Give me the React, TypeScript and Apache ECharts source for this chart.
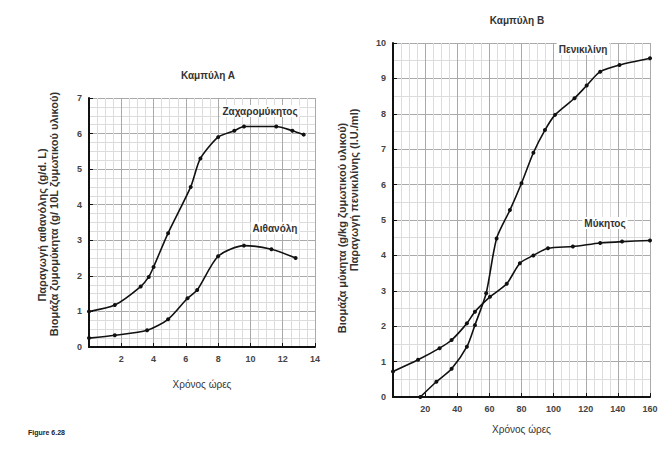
import React, { useEffect, useRef } from "react";
import * as echarts from "echarts";

// Καμπύλη Α
const hoursYeast = [0, 1.6, 3.2, 3.7, 4.0, 4.9, 6.3, 6.9, 8.0, 9.0, 9.6, 11.6, 12.6, 13.3];
const yeastBiomass = [1.0, 1.18, 1.7, 1.97, 2.25, 3.2, 4.5, 5.3, 5.9, 6.08, 6.2, 6.2, 6.08, 5.97];
const hoursEthanol = [0, 1.6, 3.6, 4.9, 6.1, 6.7, 8.0, 9.6, 11.3, 12.8];
const ethanol = [0.25, 0.33, 0.47, 0.78, 1.37, 1.6, 2.55, 2.85, 2.75, 2.5];

// Καμπύλη Β
const hoursPen = [17, 27, 36.5, 46, 51, 58, 64.5, 72.8, 80, 87.4, 94.6, 100.9, 113, 120.6, 129, 141, 160];
const penicillin = [0, 0.43, 0.8, 1.42, 2.03, 2.93, 4.48, 5.28, 6.04, 6.9, 7.54, 7.97, 8.44, 8.8, 9.19, 9.38, 9.57];
const hoursFungus = [0, 15.6, 29, 36.5, 46, 51, 60.4, 70.8, 79, 87.4, 96.5, 112, 129, 142.6, 160];
const fungusBiomass = [0.72, 1.05, 1.38, 1.61, 2.08, 2.41, 2.83, 3.2, 3.78, 4.0, 4.2, 4.25, 4.35, 4.39, 4.42];

const titleA = "Καμπύλη Α";
const titleB = "Καμπύλη Β";
const xName = "Χρόνος ώρες";
const yNameA1 = "Παραγωγή αιθανόλης (g/d. L)";
const yNameA2 = "Βιομάζα ζυμομύκητα (g/ 10L ζυμωτικού υλικού)";
const yNameB1 = "Βιομάζα μύκητα (g/kg ζυμωτικού υλικού)";
const yNameB2 = "Παραγωγή πενικιλίνης (I.U./ml)";
const labelYeast = "Ζαχαρομύκητος";
const labelEthanol = "Αιθανόλη";
const labelPen = "Πενικιλίνη";
const labelFungus = "Μύκητος";
const figLabel = "Figure 6.28";

const zip = (xs: number[], ys: number[]) => xs.map((x, i) => [x, ys[i]]);

const FONT = "Liberation Sans";

function axisX(gridIndex: number, max: number, interval: number) {
  return {
    type: "value",
    gridIndex,
    min: 0,
    max,
    interval,
    name: xName,
    nameLocation: "middle",
    nameGap: gridIndex === 0 ? 32 : 27,
    nameTextStyle: { fontFamily: FONT, fontSize: 10, color: "#333" },
    axisLine: { show: true, onZero: false, lineStyle: { color: "#111", width: 2 } },
    axisTick: { show: true, inside: true, length: 4, lineStyle: { color: "#111" } },
    axisLabel: {
      fontFamily: FONT,
      fontSize: 9,
      fontWeight: "bold",
      color: "#444",
      margin: 7,
      formatter: (v: number) => (v === 0 ? "" : String(v)),
    },
    splitLine: { show: true, lineStyle: { color: "#aaa", width: 1 } },
    minorTick: { show: false, splitNumber: 4 },
    minorSplitLine: { show: true, lineStyle: { color: "#dcdcdc", width: 1 } },
  };
}

function axisY(gridIndex: number, max: number, minorSplit: number) {
  return {
    type: "value",
    gridIndex,
    min: 0,
    max,
    interval: 1,
    axisLine: { show: true, onZero: false, lineStyle: { color: "#111", width: 2 } },
    axisTick: { show: true, inside: true, length: 4, lineStyle: { color: "#111" } },
    axisLabel: { fontFamily: FONT, fontSize: 9, fontWeight: "bold", color: "#444", margin: 7 },
    splitLine: { show: true, lineStyle: { color: "#aaa", width: 1 } },
    minorTick: { show: false, splitNumber: minorSplit },
    minorSplitLine: { show: true, lineStyle: { color: "#dcdcdc", width: 1 } },
  };
}

function lineSeries(name: string, xi: number, data: number[][]) {
  return {
    type: "line",
    name,
    xAxisIndex: xi,
    yAxisIndex: xi,
    data,
    smooth: 0.25,
    symbol: "circle",
    symbolSize: 4,
    lineStyle: { color: "#111", width: 1.6 },
    itemStyle: { color: "#111" },
  };
}

function rotText(x: number, y: number, text: string, size: number) {
  return {
    type: "text",
    x,
    y,
    rotation: Math.PI / 2,
    style: {
      text,
      fontFamily: FONT,
      fontSize: size,
      fontWeight: "bold",
      fill: "#333",
      align: "center",
      verticalAlign: "middle",
    },
  };
}

function plainText(x: number, y: number, text: string, size: number, bg = false) {
  return {
    type: "text",
    x,
    y,
    z: 10,
    style: {
      text,
      fontFamily: FONT,
      fontSize: size,
      fontWeight: "bold",
      fill: "#333",
      align: "center",
      verticalAlign: "middle",
      backgroundColor: bg ? "#fff" : undefined,
      padding: bg ? [1, 2] : 0,
    },
  };
}

export default function App() {
  const ref = useRef<HTMLDivElement>(null);
  useEffect(() => {
    if (!ref.current) return;
    const chart = echarts.init(ref.current, undefined, { renderer: "svg" });
    chart.setOption({
      animation: false,
      backgroundColor: "#fff",
      grid: [
        { left: 89, top: 98, width: 226, height: 249 },
        { left: 393, top: 43, width: 257, height: 354 },
      ],
      xAxis: [axisX(0, 14, 2), axisX(1, 160, 20)],
      yAxis: [axisY(0, 7, 4), axisY(1, 10, 2)],
      series: [
        lineSeries(labelYeast, 0, zip(hoursYeast, yeastBiomass)),
        lineSeries(labelEthanol, 0, zip(hoursEthanol, ethanol)),
        lineSeries(labelPen, 1, zip(hoursPen, penicillin)),
        lineSeries(labelFungus, 1, zip(hoursFungus, fungusBiomass)),
      ],
      graphic: [
        plainText(208, 75, titleA, 10),
        plainText(517, 20, titleB, 10),
        plainText(260, 111, labelYeast, 10, true),
        plainText(275, 228, labelEthanol, 10, true),
        plainText(583, 49, labelPen, 10, true),
        plainText(605, 223, labelFungus, 10, true),
        rotText(42, 225, yNameA1, 11),
        rotText(54, 214, yNameA2, 11),
        rotText(342, 228, yNameB1, 11),
        rotText(354, 190, yNameB2, 11),
        {
          type: "text",
          x: 28,
          y: 432,
          style: { text: figLabel, fontFamily: FONT, fontSize: 7, fontWeight: "bold", fill: "#222", verticalAlign: "middle" },
        },
      ],
    });
    return () => chart.dispose();
  }, []);
  return (
    <div
      ref={ref}
      style={{ position: "absolute", left: 0, top: 0, width: 667, height: 450 }}
    />
  );
}
